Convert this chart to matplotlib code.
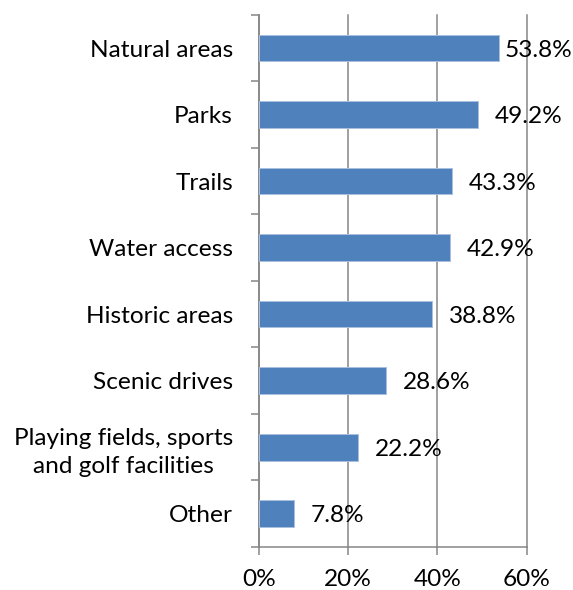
import numpy as np
import matplotlib
matplotlib.use("Agg")
import matplotlib.pyplot as plt
from matplotlib.ticker import FixedLocator

plt.rcParams["font.family"] = ["Lato", "DejaVu Sans"]
plt.rcParams["font.size"] = 17.6

categories = ["Natural areas", "Parks", "Trails", "Water access", "Historic areas",
              "Scenic drives", "Playing fields, sports\nand golf facilities", "Other"]
values = [53.8, 49.2, 43.3, 42.9, 38.8, 28.6, 22.2, 7.8]
xticks = [0, 20, 40, 60]
xtick_labels = ["0%", "20%", "40%", "60%"]

grey = "#868686"
blue = "#4F81BD"

fig = plt.figure(figsize=(5.73, 5.90), dpi=100)
ax = fig.add_axes([0.4515, 0.0729, 0.4677, 0.9021])

y = np.arange(len(categories))
bars = ax.barh(y, values, height=0.4, color=blue, edgecolor="#a9c0df", linewidth=0.7, zorder=3)

# value labels just past each bar end; the longest one is pulled in to fit
for rect, v in zip(bars, values):
    off = 4 if v > 50 else 12
    ax.annotate(f"{v:.1f}%", (rect.get_width(), rect.get_y() + rect.get_height() / 2),
                xytext=(off, -1.5), textcoords="offset points",
                ha="left", va="center", zorder=4)

ax.set_xlim(0, 60)
ax.set_ylim(len(categories) - 0.5, -0.5)

ax.set_xticks(xticks)
ax.set_xticklabels(xtick_labels)
ax.set_yticks(y)
ax.set_yticklabels(categories, multialignment="center", linespacing=1.4)
ax.yaxis.set_minor_locator(FixedLocator(np.arange(-0.5, len(categories), 1.0)))

ax.tick_params(axis="y", which="major", length=0, pad=18.5)
ax.tick_params(axis="y", which="minor", length=6, width=1.1, color=grey, direction="out")
ax.tick_params(axis="x", length=5.5, width=1.1, color=grey, direction="out", pad=10.5)

ax.grid(axis="x", color=grey, linewidth=1.1, zorder=0)
for side in ["top", "right"]:
    ax.spines[side].set_visible(False)
for side in ["left", "bottom"]:
    ax.spines[side].set_color(grey)
    ax.spines[side].set_linewidth(1.1)

for gl in ax.get_xgridlines():
    gl.set_clip_on(False)

fig.savefig("out.png", dpi=100)
